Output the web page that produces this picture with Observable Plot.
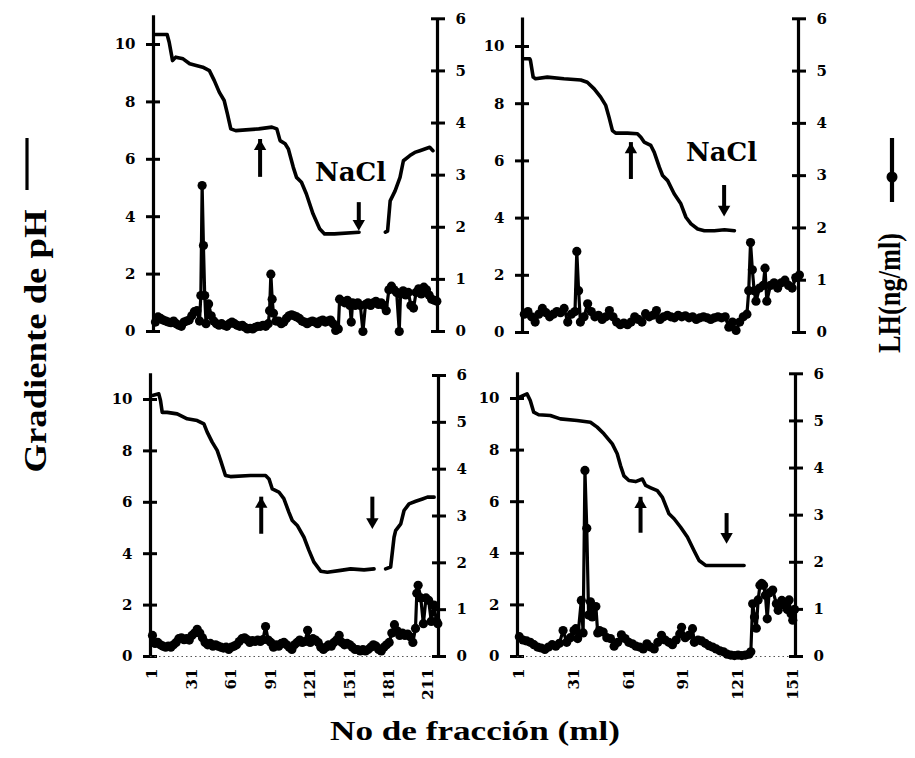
<!DOCTYPE html>
<html><head><meta charset="utf-8">
<script src="https://cdn.jsdelivr.net/npm/d3@7"></script>
<script src="https://cdn.jsdelivr.net/npm/@observablehq/plot@0.6"></script>
<style>
body{margin:0;background:#fff;}
#chart{position:relative;width:915px;height:758px;overflow:hidden;background:#fff;}
#chart svg{position:absolute;left:0;top:0;}
</style></head><body><div id="chart"></div>
<script>
// ---- tick labels ----
const phTicks = [0, 2, 4, 6, 8, 10];
const lhTicks = [0, 1, 2, 3, 4, 5, 6];
const xTicksLeft = [1, 31, 61, 91, 121, 151, 181, 211];
const xTicksRight = [1, 31, 61, 91, 121, 151];

// ---- pH gradient curves [fraction, pH] (NaN = gap) ----
const ph1 = [[1,10.35],[10,10.35],[11.6,10.08],[14.2,9.44],[16.7,9.56],[22.3,9.5],[27.4,9.33],[37.5,9.21],[42.6,9.09],[46.4,8.74],[50.2,8.34],[54,8.05],[56.5,7.58],[59.1,7.06],[62.9,7.0],[80.7,7.06],[90.8,7.12],[94.6,7.06],[97.1,6.65],[101,6.54],[103.5,6.36],[107.3,5.72],[109.8,5.37],[113.6,5.2],[117.4,4.79],[122.5,4.1],[127.6,3.58],[131.4,3.4],[139,3.4],[158,3.46],[168,NaN],[178.3,3.46],[180,3.5],[182,4.55],[185.8,4.9],[189.6,5.37],[192.2,5.95],[197.2,6.13],[201,6.24],[204.9,6.3],[208.7,6.36],[212.5,6.42],[215,6.3]];
const ph2 = [[0.7,9.57],[4,9.57],[4.4,9.51],[5.9,8.93],[7.2,8.87],[13.7,8.93],[22.9,8.87],[32.2,8.83],[35.8,8.75],[39.6,8.52],[43.2,8.23],[46,7.94],[47.8,7.53],[49.7,7.06],[51.5,6.97],[58,6.97],[63.5,6.95],[65.4,6.83],[67.2,6.66],[70.9,6.54],[72.8,6.3],[75.6,5.78],[77.4,5.49],[80.2,5.31],[83.8,4.85],[87.5,4.5],[90.3,4.03],[93.1,3.8],[96.8,3.62],[100.5,3.56],[106,3.56],[111.6,3.59],[117.1,3.56]];
const ph3 = [[1,10.16],[5.8,10.22],[7.1,9.96],[8.4,9.5],[12.2,9.5],[19.8,9.44],[27.4,9.25],[35,9.18],[40.1,9.05],[42.6,8.73],[46.4,8.34],[50.2,8.02],[52.8,7.63],[56.5,7.04],[60.3,7.0],[75.5,7.04],[87,7.04],[89.6,6.91],[92.1,6.52],[97.1,6.4],[100.9,6.14],[104.7,5.62],[107.3,5.29],[111.1,5.1],[116.2,4.64],[120,4.13],[123.8,3.67],[128.9,3.32],[134,3.28],[144.1,3.35],[151.7,3.41],[161.9,3.37],[169.5,3.41],[174,NaN],[178.3,3.41],[182.1,3.48],[184.7,4.64],[185.9,4.9],[189.8,5.16],[192.3,5.68],[196.1,5.94],[201.2,6.04],[206.3,6.13],[210.1,6.2],[215.2,6.2]];
const ph4 = [[1.2,10.05],[5.2,10.18],[7,9.92],[8.9,9.47],[11.6,9.37],[18,9.34],[23.5,9.21],[32.7,9.15],[40,9.08],[43.7,8.89],[47.4,8.63],[52,8.24],[54.7,7.86],[56.5,7.4],[58.4,7.0],[61.1,6.82],[64.8,6.78],[68.5,6.88],[70.3,6.63],[73.1,6.54],[76.7,6.43],[79.5,6.17],[83.1,5.53],[85.9,5.34],[89.5,5.01],[93.2,4.63],[96.8,4.11],[99.6,3.72],[103.2,3.53],[107.8,3.53],[115.1,3.53],[124.3,3.53]];

// ---- LH (ng/ml) per fraction [fraction, LH] ----
const lh1 = [[1,0.18],[3,0.28],[5,0.25],[7,0.22],[9,0.2],[11,0.18],[13,0.17],[15,0.2],[17,0.15],[19,0.12],[21,0.1],[23,0.18],[25,0.2],[27,0.22],[29,0.3],[31,0.38],[33,0.4],[35,0.2],[36,0.69],[37,2.8],[38,1.65],[39,0.69],[40,0.15],[42,0.53],[44,0.3],[46,0.2],[48,0.15],[50,0.12],[52,0.15],[54,0.12],[56,0.1],[58,0.15],[60,0.18],[62,0.15],[64,0.12],[66,0.1],[68,0.12],[70,0.08],[72,0.05],[74,0.06],[76,0.05],[78,0.08],[80,0.1],[82,0.1],[84,0.12],[86,0.1],[88,0.15],[89,0.4],[90,1.1],[91,0.62],[92,0.35],[94,0.2],[96,0.2],[98,0.15],[100,0.18],[102,0.25],[104,0.3],[106,0.32],[108,0.3],[110,0.28],[112,0.25],[114,0.2],[116,0.18],[118,0.15],[120,0.18],[122,0.2],[124,0.18],[126,0.15],[128,0.2],[130,0.22],[132,0.18],[134,0.2],[136,0.22],[138,0.15],[140,0.02],[142,0.05],[143,0.62],[145,0.58],[147,0.55],[149,0.6],[151,0.5],[152,0.18],[153,0.55],[155,0.5],[157,0.55],[159,0.5],[161,0.0],[163,0.52],[165,0.55],[167,0.5],[169,0.55],[171,0.58],[173,0.52],[175,0.55],[177,0.5],[179,0.4],[181,0.8],[183,0.87],[185,0.8],[187,0.75],[189,0.0],[190,0.72],[192,0.78],[194,0.7],[196,0.75],[198,0.5],[200,0.45],[202,0.75],[204,0.82],[206,0.72],[208,0.85],[210,0.8],[212,0.7],[214,0.62],[216,0.6],[218,0.58]];
const lh2 = [[1,0.35],[3,0.4],[5,0.3],[7,0.2],[9,0.35],[11,0.46],[13,0.38],[15,0.3],[17,0.35],[19,0.4],[21,0.38],[23,0.46],[25,0.2],[27,0.35],[29,0.4],[30,1.55],[31,0.8],[32,0.2],[34,0.3],[36,0.55],[38,0.4],[40,0.3],[42,0.33],[44,0.25],[46,0.3],[48,0.42],[50,0.3],[52,0.2],[54,0.15],[56,0.18],[58,0.15],[60,0.2],[62,0.3],[64,0.25],[66,0.2],[68,0.36],[70,0.3],[72,0.33],[74,0.42],[76,0.25],[78,0.3],[80,0.33],[82,0.3],[84,0.28],[86,0.33],[88,0.3],[90,0.32],[92,0.28],[94,0.3],[96,0.25],[98,0.28],[100,0.3],[102,0.28],[104,0.25],[106,0.28],[108,0.3],[110,0.28],[112,0.3],[114,0.1],[116,0.2],[118,0.04],[120,0.2],[122,0.3],[124,0.35],[125,0.8],[126,1.72],[127,1.2],[128,0.8],[129,0.6],[131,0.85],[133,0.9],[134,1.23],[135,0.6],[137,0.9],[139,0.95],[141,0.85],[143,0.95],[145,1.0],[147,0.9],[149,0.85],[151,1.05],[153,1.1]];
const lh3 = [[1,0.45],[3,0.28],[5,0.3],[7,0.25],[9,0.22],[11,0.2],[13,0.22],[15,0.2],[17,0.25],[19,0.3],[21,0.38],[23,0.4],[25,0.36],[27,0.38],[29,0.35],[31,0.45],[33,0.5],[35,0.58],[37,0.5],[39,0.4],[41,0.3],[43,0.25],[45,0.28],[47,0.22],[49,0.25],[51,0.22],[53,0.2],[55,0.18],[57,0.2],[59,0.15],[61,0.2],[63,0.22],[65,0.25],[67,0.32],[69,0.38],[71,0.4],[73,0.36],[75,0.3],[77,0.34],[79,0.32],[81,0.35],[83,0.32],[85,0.36],[87,0.64],[89,0.35],[91,0.3],[93,0.2],[95,0.25],[97,0.22],[99,0.28],[101,0.3],[103,0.25],[105,0.2],[107,0.15],[109,0.25],[111,0.3],[113,0.35],[115,0.3],[117,0.32],[119,0.56],[121,0.3],[123,0.38],[125,0.35],[127,0.3],[129,0.2],[131,0.15],[133,0.2],[135,0.25],[137,0.22],[139,0.3],[141,0.35],[143,0.45],[145,0.3],[147,0.25],[149,0.28],[151,0.25],[153,0.2],[155,0.15],[157,0.15],[159,0.12],[161,0.15],[163,0.12],[165,0.15],[167,0.2],[169,0.25],[171,0.22],[173,0.15],[175,0.12],[177,0.2],[179,0.25],[181,0.3],[183,0.5],[185,0.68],[187,0.55],[189,0.45],[191,0.5],[193,0.45],[195,0.48],[197,0.42],[199,0.3],[201,0.6],[202,1.35],[203,1.52],[205,1.25],[207,0.7],[209,1.25],[211,1.2],[213,0.75],[215,1.1],[217,0.75],[218,0.7]];
const lh4 = [[1,0.42],[3,0.35],[5,0.33],[7,0.3],[9,0.25],[11,0.2],[13,0.18],[15,0.15],[17,0.2],[19,0.25],[21,0.22],[23,0.28],[25,0.55],[27,0.3],[29,0.4],[31,0.55],[32,0.59],[33,0.38],[35,1.19],[36,0.5],[37,3.95],[38,2.72],[39,0.88],[40,1.16],[41,0.84],[43,1.06],[44,0.5],[45,0.55],[47,0.52],[49,0.4],[51,0.38],[53,0.22],[55,0.3],[57,0.46],[59,0.38],[61,0.3],[63,0.27],[65,0.22],[67,0.2],[69,0.16],[71,0.27],[73,0.2],[75,0.16],[77,0.3],[79,0.45],[81,0.35],[83,0.3],[85,0.25],[87,0.35],[89,0.48],[90,0.62],[92,0.4],[94,0.45],[96,0.59],[97,0.3],[99,0.35],[101,0.33],[103,0.28],[105,0.23],[107,0.2],[109,0.16],[111,0.12],[113,0.1],[115,0.05],[117,0.03],[119,0.02],[121,0.03],[123,0.02],[125,0.03],[127,0.05],[128,0.1],[129,1.12],[130,0.84],[131,0.6],[132,1.2],[133,1.51],[134,1.55],[135,1.51],[136,1.3],[137,0.8],[138,1.35],[140,1.41],[142,1.12],[143,0.98],[145,1.19],[146,1.1],[148,1.0],[149,1.2],[150,0.91],[151,0.77],[152,1.0]];

// ---- annotations: arrows (fraction, from pH y1 to tip y2) and NaCl labels ----
const arrows1 = [{x:81.7, y1:5.58, y2:6.69, dir:"up"}, {x:157.8, y1:4.49, y2:3.52, dir:"down"}];
const arrows2 = [{x:59.9, y1:5.56, y2:6.64, dir:"up"}, {x:111.4, y1:5.14, y2:4.06, dir:"down"}];
const arrows3 = [{x:83.7, y1:4.99, y2:6.2, dir:"up"}, {x:168.2, y1:6.2, y2:4.97, dir:"down"}];
const arrows4 = [{x:67.5, y1:5.01, y2:6.17, dir:"up"}, {x:114.7, y1:5.54, y2:4.38, dir:"down"}];
const notes1 = [{x:151.4, y:5.26, label:"NaCl"}];
const notes2 = [{x:110, y:5.98, label:"NaCl"}];

// ---- layout ----
const W = 915, H = 758;
const panels = [
  {L:153, R:437, y0:331, phTop:15.3, lhTop:18.3, xd:[-0.5,218.5], ph:ph1, lh:lh1, arrows:arrows1, notes:notes1, xt:null},
  {L:522, R:798, y0:332, phTop:17.4, lhTop:18.3, xd:[0,152.5], ph:ph2, lh:lh2, arrows:arrows2, notes:notes2, xt:null},
  {L:150, R:438, y0:656, phTop:373.3, lhTop:375, xd:[-0.5,218.5], ph:ph3, lh:lh3, arrows:arrows3, notes:[], xt:xTicksLeft},
  {L:517, R:795, y0:656, phTop:372.2, lhTop:373.3, xd:[0,152.5], ph:ph4, lh:lh4, arrows:arrows4, notes:[], xt:xTicksRight}
];
const baseStyle = {background:"transparent", fontFamily:"'DejaVu Serif', serif", fontSize:"15px", fontWeight:"bold", overflow:"visible", color:"#000"};
const chart = document.getElementById("chart");

for (const p of panels) {
  const phMarks = [
    Plot.ruleX([p.xd[0]], {y1:0, y2:11, strokeWidth:3.2}),
    Plot.axisY({ticks:phTicks, anchor:"left", tickSize:14, dx:7, tickPadding:11, strokeWidth:3, label:null, tickFormat:d=>String(d)}),
    Plot.line(p.ph, {x:d=>d[0], y:d=>d[1], strokeWidth:3.6, strokeLinejoin:"round"}),
    Plot.ruleX(p.arrows.filter(d=>d.dir==="up"), {x:"x", y1:"y1", y2:"y2", strokeWidth:4, insetTop:6}),
    Plot.ruleX(p.arrows.filter(d=>d.dir==="down"), {x:"x", y1:"y1", y2:"y2", strokeWidth:4, insetBottom:6}),
    Plot.dot(p.arrows.filter(d=>d.dir==="up"), {x:"x", y:"y2", symbol:"triangle", r:4.6, fill:"black", dy:7}),
    Plot.dot(p.arrows.filter(d=>d.dir==="down"), {x:"x", y:"y2", symbol:"triangle", r:4.6, fill:"black", rotate:180, dy:-7}),
    Plot.text(p.notes, {x:"x", y:"y", text:"label", fontSize:26, fontWeight:"bold", fontFamily:"'DejaVu Serif', serif", textAnchor:"middle", lineAnchor:"bottom"})
  ];
  if (p.xt) {
    phMarks.push(Plot.ruleY([0], {stroke:"#555", strokeWidth:1, strokeDasharray:"1.5,3"}));
    phMarks.push(Plot.axisX({ticks:p.xt, anchor:"bottom", tickSize:0, tickPadding:12, tickRotate:-90, tickFormat:d=>String(d), label:null}));
  }
  const phPlot = Plot.plot({
    width:W, height:H,
    marginLeft:p.L, marginRight:W-p.R, marginTop:p.phTop, marginBottom:H-p.y0,
    x:{domain:p.xd, axis:null}, y:{domain:[0,11], axis:null},
    style:baseStyle, marks:phMarks
  });
  const lhPlot = Plot.plot({
    width:W, height:H,
    marginLeft:p.L, marginRight:W-p.R, marginTop:p.lhTop, marginBottom:H-p.y0,
    x:{domain:p.xd, axis:null}, y:{domain:[0,6], axis:null},
    style:baseStyle,
    marks:[
      Plot.ruleX([p.xd[1]], {y1:0, y2:6, strokeWidth:3.2}),
      Plot.axisY({ticks:lhTicks, anchor:"right", tickSize:14, dx:-7, tickPadding:11, strokeWidth:3, label:null, tickFormat:d=>String(d)}),
      Plot.line(p.lh, {x:d=>d[0], y:d=>d[1], strokeWidth:3.2, strokeLinejoin:"round"}),
      Plot.dot(p.lh, {x:d=>d[0], y:d=>d[1], r:4.6, fill:"black"})
    ]
  });
  chart.appendChild(phPlot);
  chart.appendChild(lhPlot);
}

// ---- axis titles and legend keys ----
const svg = d3.select("#chart").append("svg").attr("width", W).attr("height", H);
const serif = "'Liberation Serif', 'Times New Roman', serif";
svg.append("text")
  .attr("transform", "translate(46,341) rotate(-90)")
  .attr("text-anchor", "middle").attr("font-family", serif).attr("font-weight", "bold")
  .attr("font-size", 31).attr("textLength", 263).attr("lengthAdjust", "spacingAndGlyphs")
  .text("Gradiente de pH");
svg.append("line").attr("x1", 27).attr("x2", 27).attr("y1", 138).attr("y2", 190)
  .attr("stroke", "black").attr("stroke-width", 3.2);
svg.append("text")
  .attr("transform", "translate(900,293) rotate(-90)")
  .attr("text-anchor", "middle").attr("font-family", serif).attr("font-weight", "bold")
  .attr("font-size", 31).attr("textLength", 120).attr("lengthAdjust", "spacingAndGlyphs")
  .text("LH(ng/ml)");
svg.append("line").attr("x1", 892).attr("x2", 892).attr("y1", 138).attr("y2", 202)
  .attr("stroke", "black").attr("stroke-width", 4.2);
svg.append("circle").attr("cx", 892).attr("cy", 177).attr("r", 5.5).attr("fill", "black");
svg.append("text")
  .attr("x", 475).attr("y", 740)
  .attr("text-anchor", "middle").attr("font-family", serif).attr("font-weight", "bold")
  .attr("font-size", 28).attr("textLength", 290).attr("lengthAdjust", "spacingAndGlyphs")
  .text("No de fracción (ml)");
</script></body></html>
